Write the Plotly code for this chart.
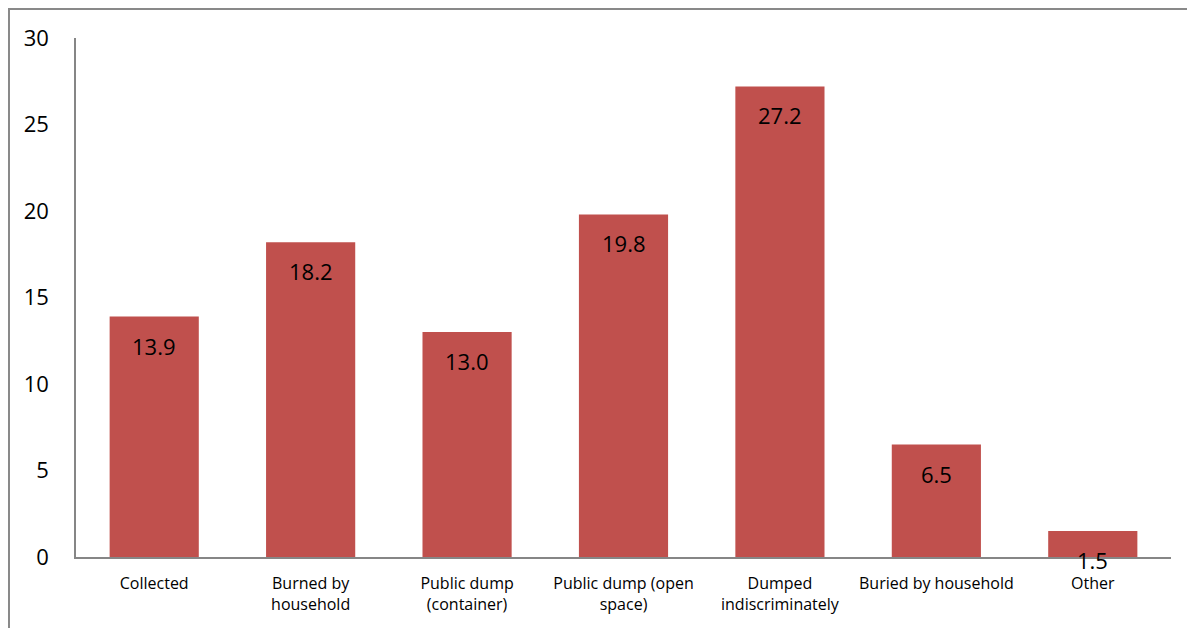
import plotly.graph_objects as go

categories = ["Collected", "Burned by<br>household", "Public dump<br>(container)",
              "Public dump (open<br>space)", "Dumped<br>indiscriminately",
              "Buried by household", "Other"]
values = [13.9, 18.2, 13.0, 19.8, 27.2, 6.5, 1.5]
y_ticks = [0, 5, 10, 15, 20, 25, 30]

BAR = "#C0504D"
AXIS = "#868686"
FONT = "Open Sans"

fig = go.Figure()
fig.add_trace(go.Bar(x=categories, y=values, marker=dict(color=BAR, line=dict(width=0)),
                     hoverinfo="skip"))

for c, v in zip(categories, values):
    fig.add_annotation(x=c, y=v, text=f"{v:.1f}", showarrow=False, yanchor="middle",
                       yshift=-29, font=dict(family=FONT, size=22, color="black"))

fig.add_shape(type="rect", xref="paper", yref="paper", x0=-0.0612, x1=1.1, y0=-0.3, y1=1.0559,
              line=dict(color="#898989", width=2), fillcolor="rgba(0,0,0,0)", layer="above")

fig.update_layout(
    width=1195, height=628,
    margin=dict(l=68, r=32, t=30, b=79),
    plot_bgcolor="white", paper_bgcolor="white",
    bargap=0.43, showlegend=False,
    font=dict(family=FONT, color="black"),
    xaxis=dict(showline=True, linecolor=AXIS, linewidth=1.5, showgrid=False, ticks="",
               ticklabelstandoff=11,
               tickfont=dict(family=FONT, size=16, color="black"), zeroline=False),
    yaxis=dict(range=[0, 30], tickvals=y_ticks, showline=True, linecolor=AXIS, linewidth=1.5,
               showgrid=False, zeroline=False, ticks="", ticklabelstandoff=21,
               tickfont=dict(family=FONT, size=22, color="black")),
)

fig.write_html("out.html")
